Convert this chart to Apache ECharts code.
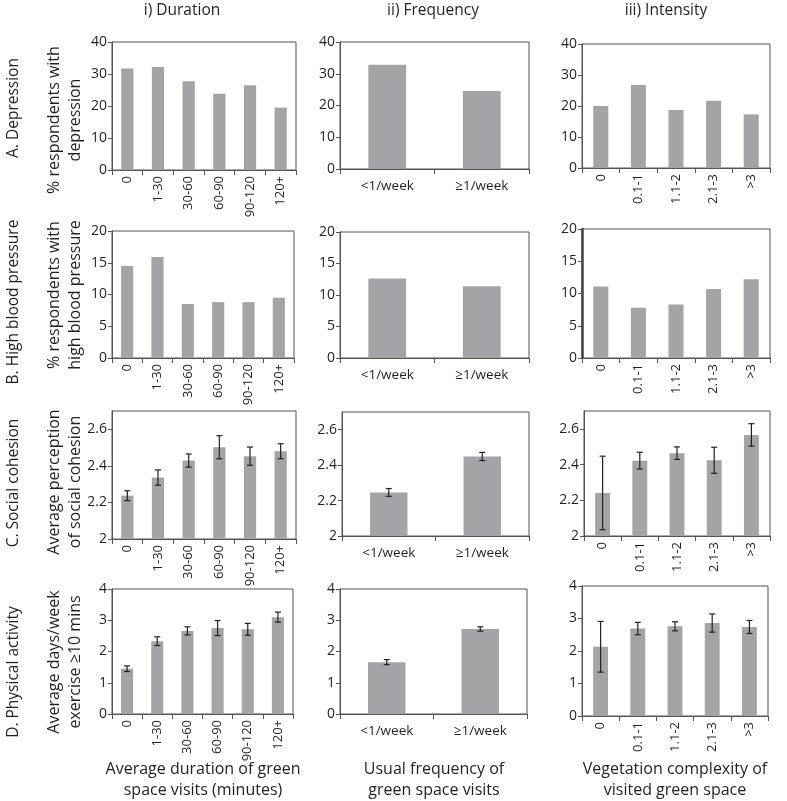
<!DOCTYPE html>
<html>
<head>
<meta charset="utf-8">
<script src="https://cdn.jsdelivr.net/npm/echarts@6/dist/echarts.min.js"></script>
<style>
html,body{margin:0;padding:0;background:#fff;}
#chart{width:787px;height:801px;}
</style>
</head>
<body>
<div id="chart"></div>
<script>
// ---- categories ----
const catDuration = ['0', '1-30', '30-60', '60-90', '90-120', '120+'];
const catFrequency = ['<1/week', '≥1/week'];
const catIntensity = ['0', '0.1-1', '1.1-2', '2.1-3', '>3'];

// ---- A. Depression (%) ----
const depDuration = [31.7, 32.2, 27.7, 23.8, 26.5, 19.5];
const depFrequency = [32.8, 24.6];
const depIntensity = [20.0, 26.8, 18.7, 21.7, 17.3];

// ---- B. High blood pressure (%) ----
const bpDuration = [14.5, 15.9, 8.5, 8.8, 8.8, 9.5];
const bpFrequency = [12.6, 11.4];
const bpIntensity = [11.1, 7.8, 8.3, 10.7, 12.2];

// ---- C. Social cohesion (mean, error) ----
const cohDuration = [2.237, 2.336, 2.429, 2.502, 2.453, 2.48];
const cohDurationErr = [0.027, 0.042, 0.036, 0.063, 0.05, 0.041];
const cohFrequency = [2.246, 2.449];
const cohFrequencyErr = [0.022, 0.023];
const cohIntensity = [2.241, 2.422, 2.464, 2.424, 2.566];
const cohIntensityErr = [0.206, 0.047, 0.035, 0.073, 0.063];

// ---- D. Physical activity (mean, error) ----
const actDuration = [1.45, 2.33, 2.66, 2.75, 2.71, 3.1];
const actDurationErr = [0.09, 0.14, 0.13, 0.24, 0.19, 0.16];
const actFrequency = [1.66, 2.72];
const actFrequencyErr = [0.08, 0.07];
const actIntensity = [2.13, 2.69, 2.76, 2.86, 2.74];
const actIntensityErr = [0.78, 0.19, 0.14, 0.28, 0.2];

// ---- axis ranges ----
const yDepression = {min: 0, max: 40, interval: 10};
const yBloodPressure = {min: 0, max: 20, interval: 5};
const yCohesion = {min: 2, max: 2.7, interval: 0.2};
const yActivity = {min: 0, max: 4, interval: 1};

// ---- texts ----
const columnTitles = ['i) Duration', 'ii) Frequency', 'iii) Intensity'];
const rowTitles = ['A. Depression', 'B. High blood pressure', 'C. Social cohesion', 'D. Physical activity'];
const yNames = ['% respondents with\ndepression', '% respondents with\nhigh blood pressure',
  'Average perception\nof social cohesion', 'Average days/week\nexercise ≥10 mins'];
const xTitles = ['Average duration of green\nspace visits (minutes)', 'Usual frequency of\ngreen space visits',
  'Vegetation complexity of\nvisited green space'];

const FONT = '"Open Sans", "Noto Sans", sans-serif';
const TXT = '#231f20';
const AX = '#555';
const BAR = '#a4a4a7';

const panels = [
  {cats: catDuration, vals: depDuration, y: yDepression, rot: true, g: [112, 42, 184, 128]},
  {cats: catFrequency, vals: depFrequency, y: yDepression, rot: false, g: [340, 42, 189, 127]},
  {cats: catIntensity, vals: depIntensity, y: yDepression, rot: true, g: [582, 44, 188, 124]},
  {cats: catDuration, vals: bpDuration, y: yBloodPressure, rot: true, g: [112, 231, 182, 127]},
  {cats: catFrequency, vals: bpFrequency, y: yBloodPressure, rot: false, g: [340, 232, 189, 126]},
  {cats: catIntensity, vals: bpIntensity, y: yBloodPressure, rot: true, g: [582, 229, 188, 129], thick: true},
  {cats: catDuration, vals: cohDuration, err: cohDurationErr, y: yCohesion, rot: true, g: [112, 411, 184, 128]},
  {cats: catFrequency, vals: cohFrequency, err: cohFrequencyErr, y: yCohesion, rot: false, g: [342, 412, 187, 124]},
  {cats: catIntensity, vals: cohIntensity, err: cohIntensityErr, y: yCohesion, rot: true, g: [584, 411, 186, 125]},
  {cats: catDuration, vals: actDuration, err: actDurationErr, y: yActivity, rot: true, g: [112, 589, 181, 125]},
  {cats: catFrequency, vals: actFrequency, err: actFrequencyErr, y: yActivity, rot: false, g: [340, 589, 187, 125]},
  {cats: catIntensity, vals: actIntensity, err: actIntensityErr, y: yActivity, rot: true, g: [582, 586, 186, 130]}
];

const grid = [], xAxis = [], yAxis = [], series = [];
panels.forEach((p, i) => {
  grid.push({left: p.g[0], top: p.g[1], width: p.g[2], height: p.g[3], show: true,
    borderColor: AX, borderWidth: 1, backgroundColor: 'transparent', containLabel: false});
  xAxis.push({type: 'category', gridIndex: i, data: p.cats, boundaryGap: true,
    axisLine: {show: true, lineStyle: {color: AX, width: 1}},
    axisTick: {show: true, length: 5, lineStyle: {color: AX}},
    axisLabel: {rotate: p.rot ? 90 : 0, interval: 0, fontSize: p.rot ? 13 : 13.5, color: TXT,
      fontFamily: FONT, margin: p.rot ? 6 : 10}});
  yAxis.push({type: 'value', gridIndex: i, min: p.y.min, max: p.y.max, interval: p.y.interval,
    splitLine: {show: false},
    axisLine: {show: true, lineStyle: {color: p.thick ? '#444' : AX, width: p.thick ? 2.5 : 1}},
    axisTick: {show: true, length: 4, lineStyle: {color: AX}},
    axisLabel: {fontSize: 14, color: TXT, fontFamily: FONT, margin: 5, showMaxLabel: p.y.max !== 2.7}});
  series.push({type: 'bar', xAxisIndex: i, yAxisIndex: i, data: p.vals, barWidth: '40%',
    itemStyle: {color: BAR}, silent: true, animation: false});
  if (p.err) {
    series.push({type: 'custom', xAxisIndex: i, yAxisIndex: i, z: 10, animation: false, silent: true,
      data: p.vals.map((v, k) => [k, v - p.err[k], v + p.err[k]]),
      encode: {x: 0, y: [1, 2]},
      renderItem: function (params, api) {
        const lo = api.coord([api.value(0), api.value(1)]);
        const hi = api.coord([api.value(0), api.value(2)]);
        const w = 3;
        const st = {stroke: '#222', lineWidth: 1.2};
        return {type: 'group', children: [
          {type: 'line', shape: {x1: lo[0], y1: lo[1], x2: hi[0], y2: hi[1]}, style: st},
          {type: 'line', shape: {x1: lo[0] - w, y1: lo[1], x2: lo[0] + w, y2: lo[1]}, style: st},
          {type: 'line', shape: {x1: hi[0] - w, y1: hi[1], x2: hi[0] + w, y2: hi[1]}, style: st}
        ]};
      }});
  }
});

// text placement
const colTitlePos = [[182, 11], [433, 11], [666, 11]];
const rowTitlePos = [[14, 108], [14, 302], [14, 483], [14, 672]];
const yNamePos = [[64.5, 120], [64.5, 295], [64.5, 482], [64.5, 662]];
const xTitlePos = [[203, 780], [434, 780], [675, 780]];

const graphic = [];
columnTitles.forEach((t, i) => graphic.push({type: 'text', x: colTitlePos[i][0], y: colTitlePos[i][1],
  style: {text: t, fill: TXT, font: '15.5px ' + FONT, textAlign: 'center', textVerticalAlign: 'middle'}}));
rowTitles.forEach((t, i) => graphic.push({type: 'text', x: rowTitlePos[i][0], y: rowTitlePos[i][1], rotation: Math.PI / 2,
  style: {text: t, fill: TXT, font: '15.5px ' + FONT, textAlign: 'center', textVerticalAlign: 'middle'}}));
yNames.forEach((t, i) => graphic.push({type: 'text', x: yNamePos[i][0], y: yNamePos[i][1], rotation: Math.PI / 2,
  style: {text: t, fill: TXT, font: '16px ' + FONT, lineHeight: 21, textAlign: 'center', textVerticalAlign: 'middle'}}));
xTitles.forEach((t, i) => graphic.push({type: 'text', x: xTitlePos[i][0], y: xTitlePos[i][1],
  style: {text: t, fill: TXT, font: '16px ' + FONT, lineHeight: 21, textAlign: 'center', textVerticalAlign: 'middle'}}));

const chart = echarts.init(document.getElementById('chart'), null, {renderer: 'canvas'});
chart.setOption({animation: false, backgroundColor: '#fff', grid, xAxis, yAxis, series, graphic});
</script>
</body>
</html>
